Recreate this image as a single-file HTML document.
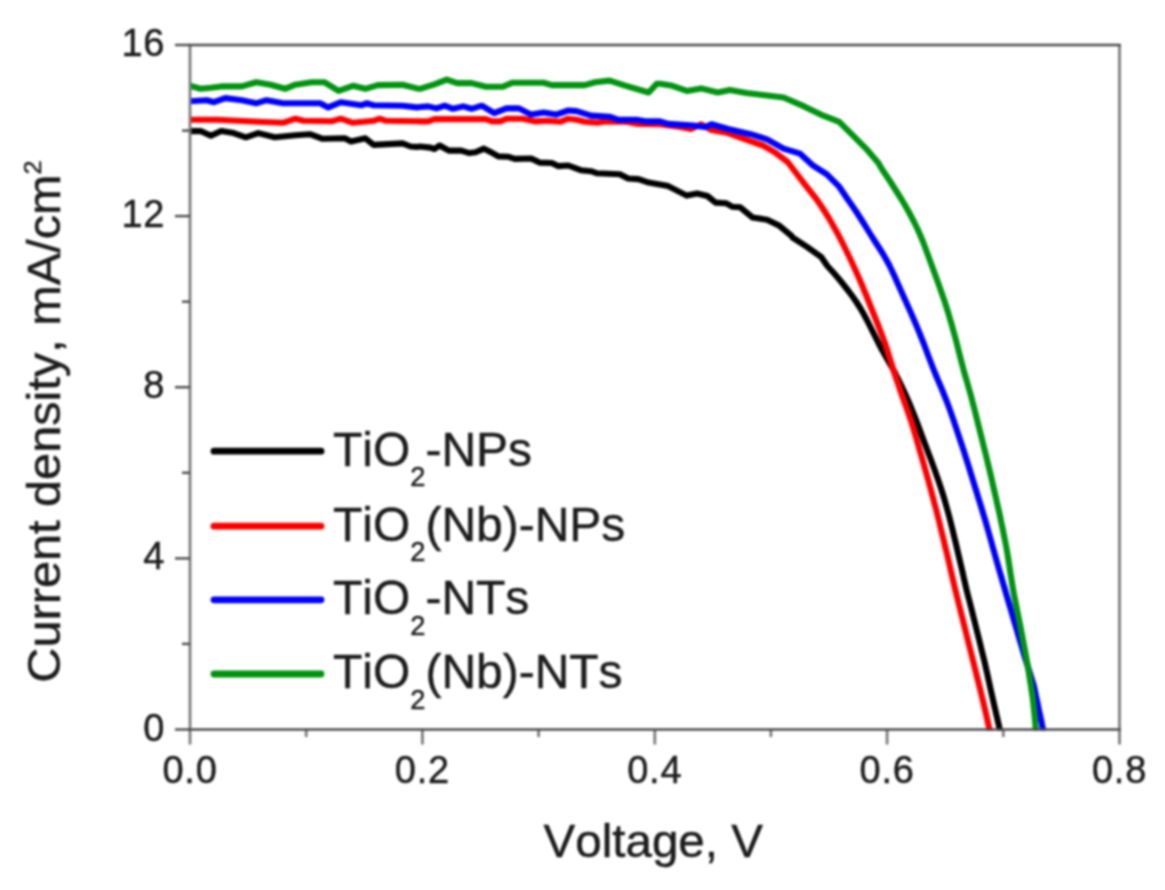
<!DOCTYPE html>
<html><head><meta charset="utf-8"><title>J-V curves</title>
<style>
html,body{margin:0;padding:0;background:#fff;}
body{width:1165px;height:890px;overflow:hidden;}
svg{display:block;filter:blur(0.9px);}
text{font-family:"Liberation Sans",Arial,sans-serif;fill:#1c1c1c;stroke:#1c1c1c;stroke-width:0.45px;font-kerning:none;}
</style></head><body>
<svg width="1165" height="890" viewBox="0 0 1165 890">
<rect width="1165" height="890" fill="#ffffff"/>
<defs><clipPath id="pc"><rect x="190.0" y="45.0" width="929.5" height="686.0"/></clipPath></defs>
<g fill="none" stroke-width="6.1" stroke-linejoin="round" clip-path="url(#pc)">
<path stroke="#000000" d="M189.9,131.1 L200.6,131.1 L210.9,135.8 L221.2,131.1 L233.6,133.1 L245.9,137.3 L258.3,133.1 L274.8,137.3 L295.4,135.2 L309.8,134.2 L322.1,138.7 L344.8,138.3 L351.0,141.4 L365.4,138.3 L373.6,144.9 L402.5,143.4 L410.7,146.5 L416.9,146.9 L420.0,146.5 L430.3,147.6 L434.4,149.0 L439.6,145.5 L448.8,150.6 L461.2,150.6 L469.4,153.1 L475.6,152.3 L483.9,148.6 L490.0,151.7 L498.3,156.4 L508.6,156.8 L514.8,158.9 L531.2,158.5 L539.5,162.6 L551.8,163.0 L558.0,166.1 L568.3,165.5 L580.7,170.2 L591.0,171.2 L597.2,173.3 L619.8,174.3 L628.1,178.5 L638.4,179.1 L648.7,182.6 L656.9,184.0 L660.0,184.6 L668.2,186.1 L686.8,195.6 L697.1,193.5 L707.4,196.0 L715.6,202.6 L725.9,203.2 L732.1,206.7 L740.3,207.3 L752.7,217.6 L767.1,219.7 L779.5,225.8 L791.8,236.1 L792.4,237.4 L806.8,246.7 L821.2,257.0 L827.4,266.0 L832.9,272.0 L838.1,278.0 L843.0,284.0 L847.7,290.0 L852.2,296.0 L856.4,302.0 L860.2,308.0 L863.7,314.0 L866.9,320.0 L869.9,326.0 L872.9,332.0 L875.9,338.0 L878.9,344.0 L882.1,350.0 L885.5,356.0 L888.9,362.0 L892.4,368.0 L895.6,374.0 L898.6,380.0 L901.5,386.0 L904.3,392.0 L907.0,398.0 L909.6,404.0 L912.0,410.0 L914.4,416.0 L916.8,422.0 L919.1,428.0 L921.3,434.0 L923.5,440.0 L925.8,446.0 L928.0,452.0 L930.3,458.0 L932.5,464.0 L934.7,470.0 L936.8,476.0 L938.9,482.0 L940.9,488.0 L942.8,494.0 L944.6,500.0 L946.3,506.0 L948.0,512.0 L949.6,518.0 L951.1,524.0 L952.6,530.0 L954.0,536.0 L955.5,542.0 L956.9,548.0 L958.3,554.0 L959.7,560.0 L961.1,566.0 L962.5,572.0 L963.8,578.0 L965.2,584.0 L966.6,590.0 L968.1,596.0 L969.7,602.0 L971.2,608.0 L972.7,614.0 L974.2,620.0 L975.7,626.0 L977.2,632.0 L978.7,638.0 L980.2,644.0 L981.6,650.0 L983.1,656.0 L984.6,662.0 L985.9,668.0 L987.3,674.0 L988.6,680.0 L989.9,686.0 L991.2,692.0 L992.6,698.0 L993.9,704.0 L995.3,710.0 L996.7,716.0 L998.1,722.0 L999.4,728.0 L1000.8,734.0 L1002.2,740.0 L1003.6,746.0 L1005.0,752.0 L1006.4,758.0"/>
<path stroke="#ff0000" d="M189.9,119.7 L217.1,119.7 L258.3,121.8 L283.0,122.8 L295.4,118.7 L303.6,120.8 L332.4,121.2 L340.7,118.7 L353.0,122.8 L373.6,120.8 L379.8,118.7 L386.0,120.8 L416.9,121.2 L420.0,121.4 L428.2,121.4 L434.4,119.1 L485.9,119.1 L492.1,121.4 L500.3,121.4 L506.5,118.7 L523.0,118.7 L535.4,121.4 L547.7,120.8 L560.1,121.8 L568.3,118.7 L576.6,119.7 L584.8,121.8 L597.2,122.8 L605.4,121.4 L626.0,121.8 L638.4,123.9 L656.9,124.3 L660.0,124.3 L680.6,127.0 L690.9,129.0 L701.2,124.3 L711.5,130.0 L728.0,133.1 L742.4,138.3 L763.0,145.5 L775.4,152.7 L787.7,162.0 L804.2,183.6 L816.4,199.0 L820.5,205.0 L824.4,211.0 L828.2,217.0 L831.7,223.0 L835.1,229.0 L838.4,235.0 L841.5,241.0 L844.5,247.0 L847.4,253.0 L850.3,259.0 L853.1,265.0 L855.8,271.0 L858.5,277.0 L861.1,283.0 L863.6,289.0 L866.1,295.0 L868.5,301.0 L870.9,307.0 L873.3,313.0 L875.7,319.0 L878.1,325.0 L880.4,331.0 L882.7,337.0 L884.9,343.0 L886.9,349.0 L888.7,355.0 L890.6,361.0 L892.5,367.0 L894.4,373.0 L896.4,379.0 L898.5,385.0 L900.5,391.0 L902.6,397.0 L904.8,403.0 L906.9,409.0 L909.0,415.0 L911.1,421.0 L913.0,427.0 L914.8,433.0 L916.5,439.0 L918.2,445.0 L919.9,451.0 L921.7,457.0 L923.4,463.0 L925.1,469.0 L926.8,475.0 L928.5,481.0 L930.1,487.0 L931.7,493.0 L933.3,499.0 L934.9,505.0 L936.5,511.0 L938.0,517.0 L939.5,523.0 L940.9,529.0 L942.4,535.0 L943.9,541.0 L945.3,547.0 L946.8,553.0 L948.2,559.0 L949.6,565.0 L950.9,571.0 L952.3,577.0 L953.7,583.0 L955.1,589.0 L956.6,595.0 L958.1,601.0 L959.6,607.0 L961.1,613.0 L962.6,619.0 L964.1,625.0 L965.6,631.0 L967.1,637.0 L968.6,643.0 L970.1,649.0 L971.6,655.0 L973.1,661.0 L974.6,667.0 L976.1,673.0 L977.6,679.0 L979.1,685.0 L980.6,691.0 L982.0,697.0 L983.5,703.0 L984.9,709.0 L986.3,715.0 L987.6,721.0 L988.9,727.0 L990.2,733.0 L991.4,739.0 L992.7,745.0 L993.8,751.0 L994.9,757.0"/>
<path stroke="#0000ff" d="M189.9,101.2 L206.8,100.2 L214.0,102.2 L225.3,98.1 L241.8,100.2 L256.2,103.3 L266.5,100.2 L283.0,103.3 L320.1,103.3 L328.3,107.4 L340.7,102.2 L361.3,105.3 L366.4,103.3 L373.6,105.3 L402.5,105.7 L416.9,107.4 L420.0,107.0 L428.2,106.4 L436.5,108.4 L444.7,105.7 L453.0,108.8 L463.3,106.4 L471.5,108.8 L481.8,105.7 L494.2,113.2 L506.5,108.4 L518.9,108.4 L531.2,114.6 L543.6,112.5 L556.0,114.6 L568.3,110.5 L576.6,111.1 L591.0,115.6 L609.5,116.7 L617.8,119.7 L636.3,119.7 L646.6,121.4 L656.9,121.4 L660.0,121.4 L668.2,123.9 L693.0,125.5 L705.3,127.0 L711.5,124.3 L728.0,129.0 L750.6,134.2 L767.1,139.3 L783.6,148.6 L800.1,153.7 L812.4,165.1 L826.9,174.3 L839.2,186.7 L847.5,199.0 L851.7,205.0 L855.8,211.0 L859.7,217.0 L863.5,223.0 L867.2,229.0 L870.9,235.0 L874.7,241.0 L878.6,247.0 L882.4,253.0 L885.9,259.0 L889.2,265.0 L892.1,271.0 L894.9,277.0 L897.5,283.0 L900.2,289.0 L902.9,295.0 L905.6,301.0 L908.3,307.0 L911.0,313.0 L913.6,319.0 L916.2,325.0 L918.7,331.0 L921.1,337.0 L923.5,343.0 L925.8,349.0 L928.0,355.0 L930.3,361.0 L932.6,367.0 L935.0,373.0 L937.5,379.0 L940.1,385.0 L942.6,391.0 L945.0,397.0 L947.4,403.0 L949.6,409.0 L951.7,415.0 L953.8,421.0 L955.8,427.0 L957.8,433.0 L959.8,439.0 L961.8,445.0 L963.8,451.0 L965.7,457.0 L967.6,463.0 L969.5,469.0 L971.3,475.0 L973.2,481.0 L975.0,487.0 L976.9,493.0 L978.7,499.0 L980.6,505.0 L982.4,511.0 L984.2,517.0 L986.0,523.0 L987.7,529.0 L989.4,535.0 L991.1,541.0 L992.7,547.0 L994.4,553.0 L996.1,559.0 L997.8,565.0 L999.5,571.0 L1001.3,577.0 L1003.0,583.0 L1004.8,589.0 L1006.5,595.0 L1008.3,601.0 L1010.1,607.0 L1011.8,613.0 L1013.6,619.0 L1015.4,625.0 L1017.1,631.0 L1018.9,637.0 L1020.7,643.0 L1022.4,649.0 L1024.2,655.0 L1026.1,661.0 L1028.0,667.0 L1029.9,673.0 L1031.7,679.0 L1033.6,685.0 L1035.0,691.0 L1036.2,697.0 L1037.5,703.0 L1038.7,709.0 L1040.0,715.0 L1041.3,721.0 L1042.5,727.0 L1043.7,733.0 L1044.9,739.0 L1046.1,745.0 L1047.2,751.0 L1048.4,757.0"/>
<path stroke="#009410" d="M189.9,85.8 L200.6,88.8 L210.9,87.8 L221.2,86.4 L241.8,86.4 L256.2,82.2 L270.6,84.7 L285.1,88.8 L295.4,84.7 L311.8,82.2 L324.2,82.2 L338.6,90.9 L353.0,85.8 L365.4,88.8 L377.8,85.1 L402.5,84.7 L416.9,88.4 L420.0,88.8 L434.4,84.3 L446.8,79.6 L457.1,83.1 L471.5,83.1 L485.9,86.8 L502.4,86.8 L512.7,82.7 L543.6,82.7 L551.8,85.1 L584.8,85.1 L595.1,82.2 L609.5,80.6 L626.0,85.8 L648.7,92.5 L656.9,83.7 L660.0,83.7 L672.4,85.8 L686.8,90.9 L701.2,88.4 L717.7,92.5 L730.0,89.9 L746.5,93.0 L763.0,95.0 L783.6,97.5 L804.2,106.4 L820.7,114.6 L839.2,121.8 L851.6,134.2 L866.0,148.6 L878.4,163.0 L881.8,169.0 L885.9,175.0 L889.9,181.0 L893.7,187.0 L897.5,193.0 L901.3,199.0 L904.9,205.0 L908.3,211.0 L911.5,217.0 L914.6,223.0 L917.5,229.0 L920.2,235.0 L922.7,241.0 L925.0,247.0 L927.2,253.0 L929.4,259.0 L931.6,265.0 L933.8,271.0 L936.0,277.0 L938.2,283.0 L940.3,289.0 L942.4,295.0 L944.5,301.0 L946.4,307.0 L948.3,313.0 L950.0,319.0 L951.8,325.0 L953.4,331.0 L955.1,337.0 L956.7,343.0 L958.2,349.0 L959.7,355.0 L961.2,361.0 L962.8,367.0 L964.4,373.0 L966.2,379.0 L967.9,385.0 L969.6,391.0 L971.3,397.0 L972.8,403.0 L974.4,409.0 L975.9,415.0 L977.4,421.0 L978.9,427.0 L980.4,433.0 L981.9,439.0 L983.4,445.0 L984.9,451.0 L986.4,457.0 L987.8,463.0 L989.3,469.0 L990.7,475.0 L992.1,481.0 L993.4,487.0 L994.8,493.0 L996.2,499.0 L997.5,505.0 L998.9,511.0 L1000.2,517.0 L1001.4,523.0 L1002.7,529.0 L1003.9,535.0 L1005.1,541.0 L1006.3,547.0 L1007.3,553.0 L1008.3,559.0 L1009.2,565.0 L1010.1,571.0 L1011.1,577.0 L1012.0,583.0 L1013.0,589.0 L1014.1,595.0 L1015.3,601.0 L1016.5,607.0 L1017.7,613.0 L1018.9,619.0 L1020.1,625.0 L1021.3,631.0 L1022.4,637.0 L1023.5,643.0 L1024.7,649.0 L1025.8,655.0 L1026.9,661.0 L1027.9,667.0 L1028.9,673.0 L1029.8,679.0 L1030.8,685.0 L1031.7,691.0 L1032.6,697.0 L1033.3,703.0 L1033.9,709.0 L1034.5,715.0 L1035.1,721.0 L1035.6,727.0 L1036.2,733.0 L1036.7,739.0 L1037.2,745.0 L1037.6,751.0 L1038.1,757.0"/>
</g>
<g stroke="#7c7c7c" stroke-width="2.8" fill="none">
<line x1="190.0" y1="729.5" x2="190.0" y2="744.5"/>
<line x1="422.4" y1="729.5" x2="422.4" y2="744.5"/>
<line x1="654.8" y1="729.5" x2="654.8" y2="744.5"/>
<line x1="887.1" y1="729.5" x2="887.1" y2="744.5"/>
<line x1="1119.5" y1="729.5" x2="1119.5" y2="744.5"/>
<line x1="306.2" y1="729.5" x2="306.2" y2="737"/>
<line x1="538.6" y1="729.5" x2="538.6" y2="737"/>
<line x1="770.9" y1="729.5" x2="770.9" y2="737"/>
<line x1="1003.3" y1="729.5" x2="1003.3" y2="737"/>
<line x1="190.0" y1="45.0" x2="190.0" y2="729.5"/>
<line x1="1119.5" y1="45.0" x2="1119.5" y2="729.5"/>
</g>
<g stroke="#4c4c4c" stroke-width="2.4" fill="none">
<line x1="175" y1="729.5" x2="190.0" y2="729.5"/>
<line x1="175" y1="558.4" x2="190.0" y2="558.4"/>
<line x1="175" y1="387.2" x2="190.0" y2="387.2"/>
<line x1="175" y1="216.1" x2="190.0" y2="216.1"/>
<line x1="175" y1="45.0" x2="190.0" y2="45.0"/>
<line x1="182" y1="643.9" x2="190.0" y2="643.9"/>
<line x1="182" y1="472.8" x2="190.0" y2="472.8"/>
<line x1="182" y1="301.7" x2="190.0" y2="301.7"/>
<line x1="182" y1="130.6" x2="190.0" y2="130.6"/>
<line x1="188.6" y1="45.0" x2="1120.9" y2="45.0"/>
<line x1="188.6" y1="729.5" x2="1120.9" y2="729.5"/>
</g>
<g font-size="38" letter-spacing="0.8"><text transform="translate(165.3,740.5) scale(1.000,1)" text-anchor="end">0</text><text transform="translate(165.3,569.4) scale(1.000,1)" text-anchor="end">4</text><text transform="translate(165.3,398.2) scale(1.000,1)" text-anchor="end">8</text><text transform="translate(165.3,227.1) scale(1.000,1)" text-anchor="end">12</text><text transform="translate(165.3,56.0) scale(1.000,1)" text-anchor="end">16</text></g>
<g font-size="38" letter-spacing="0.8"><text transform="translate(190.0,783) scale(1.000,1)" text-anchor="middle">0.0</text><text transform="translate(422.4,783) scale(1.000,1)" text-anchor="middle">0.2</text><text transform="translate(654.8,783) scale(1.000,1)" text-anchor="middle">0.4</text><text transform="translate(887.1,783) scale(1.000,1)" text-anchor="middle">0.6</text><text transform="translate(1119.5,783) scale(1.000,1)" text-anchor="middle">0.8</text></g>
<line x1="214" y1="451.2" x2="321" y2="451.2" stroke="#000000" stroke-width="6.8" stroke-linecap="round"/>
<text transform="translate(333,465.6) scale(1.010,1)" font-size="47.5">TiO<tspan font-size="27" dy="20.5">2</tspan><tspan dy="-20.5">-NPs</tspan></text>
<line x1="214" y1="526.2" x2="321" y2="526.2" stroke="#ff0000" stroke-width="6.8" stroke-linecap="round"/>
<text transform="translate(333,540.6) scale(1.010,1)" font-size="47.5">TiO<tspan font-size="27" dy="20.5">2</tspan><tspan dy="-20.5">(Nb)-NPs</tspan></text>
<line x1="214" y1="599.8" x2="321" y2="599.8" stroke="#0000ff" stroke-width="6.8" stroke-linecap="round"/>
<text transform="translate(333,614.2) scale(1.010,1)" font-size="47.5">TiO<tspan font-size="27" dy="20.5">2</tspan><tspan dy="-20.5">-NTs</tspan></text>
<line x1="214" y1="674.0" x2="321" y2="674.0" stroke="#009410" stroke-width="6.8" stroke-linecap="round"/>
<text transform="translate(333,688.4) scale(1.010,1)" font-size="47.5">TiO<tspan font-size="27" dy="20.5">2</tspan><tspan dy="-20.5">(Nb)-NTs</tspan></text>
<text transform="translate(653.2,857) scale(1.034,1)" font-size="46" text-anchor="middle">Voltage, V</text>
<text transform="translate(59.6,421.5) rotate(-90) scale(1.058,1)" font-size="46" text-anchor="middle">Current density, mA/cm<tspan font-size="24" dy="-19">2</tspan></text>
</svg>
</body></html>
